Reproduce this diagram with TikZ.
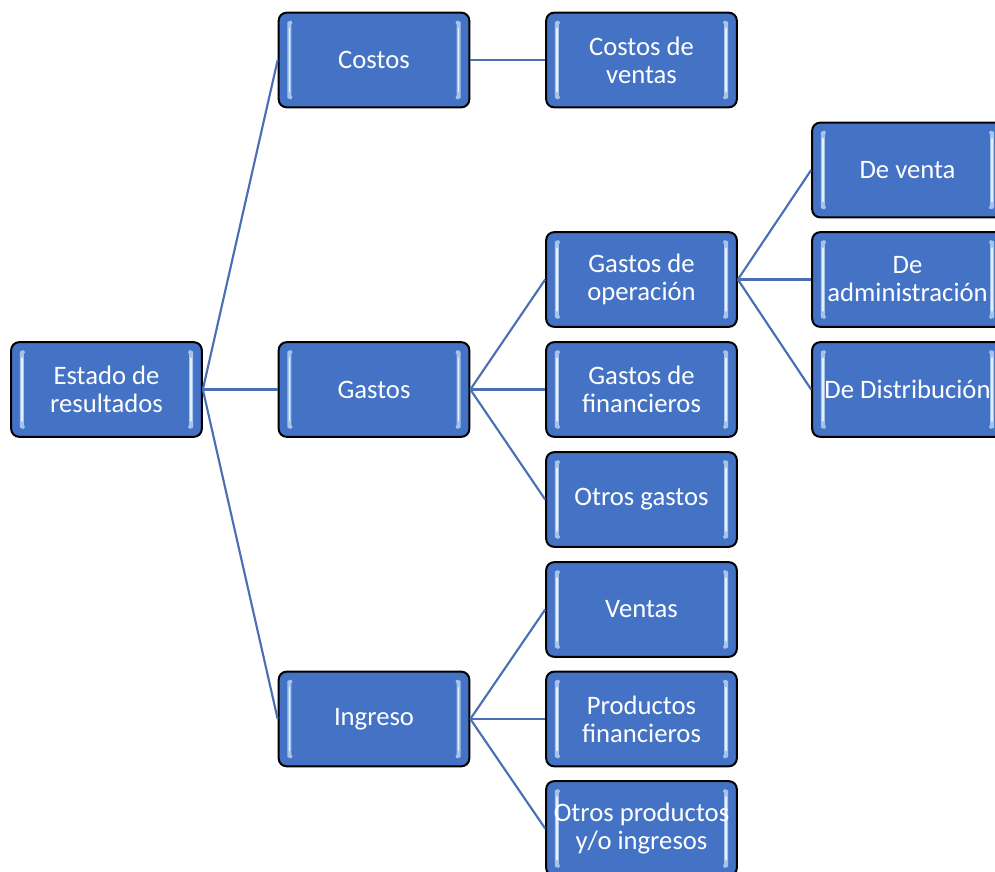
\documentclass[tikz,border=0pt]{standalone}
\usepackage{fontspec}
\setmainfont{Carlito}
\usetikzlibrary{calc}
\definecolor{boxblue}{HTML}{4472C4}
\definecolor{linkblue}{HTML}{4A6FB2}
\definecolor{barblue}{HTML}{A4C4EC}
\definecolor{barlight}{HTML}{E6F0FC}
\tikzset{
  bar/.style={line cap=round},
  box/.style={
    draw=black, line width=1.5pt, fill=boxblue, rounded corners=6pt,
    minimum width=143pt, minimum height=71pt, inner sep=0pt,
    align=center, text=white,
    font=\fontsize{20}{21}\selectfont,
    path picture={
      \path (path picture bounding box.south west) coordinate (sw)
            (path picture bounding box.north east) coordinate (ne);
      \foreach \dx/\bend/\side in {8pt/0.8pt/sw, -8pt/-0.8pt/ne}{
        \coordinate (b1) at ($(\side |- sw)+(\dx,8pt)$);
        \coordinate (b2) at ($(\side |- ne)+(\dx,-8pt)$);
        \draw[bar, draw=barblue, line width=3pt]
          ($(b1)+(\bend,-0.5pt)$) .. controls (b1) .. ($(b1)+(0,6pt)$) -- ($(b2)+(0,-6pt)$) .. controls (b2) .. ($(b2)+(\bend,0.5pt)$);
        \draw[bar, draw=barlight, line width=1.1pt]
          ($(b1)+(0,4pt)$) -- ($(b2)+(0,-4pt)$);
      }
    }
  },
  link/.style={draw=linkblue, line width=1.6pt}
}
\begin{document}
\begin{tikzpicture}[x=0.75pt,y=-0.75pt]
  \useasboundingbox (0,0) rectangle (995,871);
  \clip (0,0) rectangle (995,871);
  % root
  \node[box] (root) at (106.5,389.5) {Estado de\\resultados};
  % first level
  \node[box] (cost) at (374,60) {Costos};
  \node[box] (gast) at (374,389.5) {Gastos};
  \node[box] (ingr) at (374,719) {Ingreso};
  % second level
  \node[box] (cven) at (641.5,60) {Costos de\\ventas};
  \node[box] (gope) at (641.5,279.5) {Gastos de\\operación};
  \node[box] (gfin) at (641.5,389.5) {Gastos de\\financieros};
  \node[box] (otg)  at (641.5,499.5) {Otros gastos};
  \node[box] (vent) at (641.5,609.5) {Ventas};
  \node[box] (pfin) at (641.5,719) {Productos\\financieros};
  \node[box] (otp)  at (641.5,828.5) {Otros productos\\y/o ingresos};
  % third level
  \node[box] (dven) at (907.5,170) {De venta};
  \node[box] (dadm) at (907.5,279.5) {De\\administración};
  \node[box] (ddis) at (907.5,389.5) {De Distribución};
  % connectors
  \foreach \c in {cost,gast,ingr} \draw[link] (root.east) -- (\c.west);
  \draw[link] (cost.east) -- (cven.west);
  \foreach \c in {gope,gfin,otg} \draw[link] (gast.east) -- (\c.west);
  \foreach \c in {vent,pfin,otp} \draw[link] (ingr.east) -- (\c.west);
  \foreach \c in {dven,dadm,ddis} \draw[link] (gope.east) -- (\c.west);
\end{tikzpicture}
\end{document}
